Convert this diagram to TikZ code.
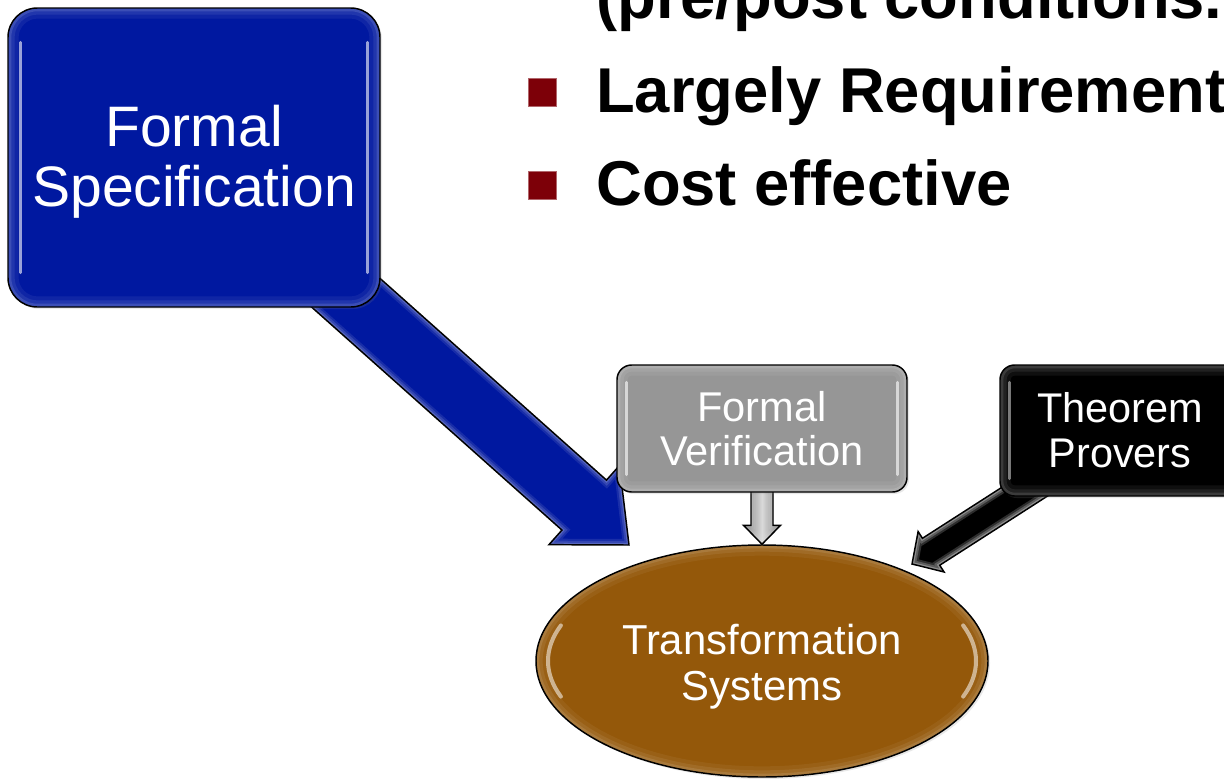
\documentclass[tikz,border=0pt]{standalone}
\usepackage{fontspec}
\setmainfont{Liberation Sans}
\usetikzlibrary{calc,shapes.geometric,backgrounds,shadows}

\definecolor{specblue}{RGB}{0,24,160}
\definecolor{verifgray}{RGB}{150,150,150}
\definecolor{transbrown}{RGB}{148,88,10}
\definecolor{bulletred}{RGB}{125,0,8}

% Corner points of a block arrow: #1 start, #2 tip, #3 shaft half-width,
% #4 head half-width, #5 head length
\newcommand{\arrowpoints}[5]{%
  \coordinate (ba-neck) at ($(#2)!#5!(#1)$);
  \coordinate (ba-1) at ($(#1)!#3!90:(#2)$);
  \coordinate (ba-2) at ($(ba-neck)!#3!90:(#2)$);
  \coordinate (ba-3) at ($(ba-neck)!#4!90:(#2)$);
  \coordinate (ba-4) at (#2);
  \coordinate (ba-5) at ($(ba-neck)!#4!-90:(#2)$);
  \coordinate (ba-6) at ($(ba-neck)!#3!-90:(#2)$);
  \coordinate (ba-7) at ($(#1)!#3!-90:(#2)$);
}
\newcommand{\arrowoutline}{(ba-1) -- (ba-2) -- (ba-3) -- (ba-4) -- (ba-5) -- (ba-6) -- (ba-7) -- cycle}

% Block arrow with an inner glow: #1 fill style, #2 glow opacity factor,
% #3 start, #4 tip, #5 shaft half-width, #6 head half-width, #7 head length
\newcommand{\blockarrow}[7]{%
  \arrowpoints{#3}{#4}{#5}{#6}{#7}
  \fill[#1] \arrowoutline;
  \begin{scope}
    \clip \arrowoutline;
    \foreach \lw/\op in {9pt/0.08,6pt/0.10,3pt/0.14}
      \draw[white,opacity=#2*\op,line width=\lw,line join=miter] \arrowoutline;
  \end{scope}
  \draw[black,line width=1.1pt,line join=miter] \arrowoutline;
}

\begin{document}
\begin{tikzpicture}[x=0.75pt,y=-0.75pt,
  softshadow/.style={drop shadow={opacity=0.18,shadow xshift=1.5pt,shadow yshift=-1.5pt}},
  boxglow/.style={path picture={
    \foreach \lw/\op in {16pt/0.06,10pt/0.08,5pt/0.12}
      \draw[white,opacity=\op,line width=\lw,rounded corners=#1]
        (path picture bounding box.south west) rectangle (path picture bounding box.north east);}},
  specbox/.style={draw=black,line width=1.1pt,fill=specblue,rounded corners=22pt,
    inner sep=0pt,softshadow,boxglow=22pt},
  verifbox/.style={draw=black,line width=1.1pt,fill=verifgray,rounded corners=11pt,
    inner sep=0pt,text=white,align=center,font=\fontsize{31.2pt}{33pt}\selectfont,
    softshadow,boxglow=11pt},
  proverbox/.style={draw=black,line width=1.1pt,fill=black,rounded corners=11pt,
    inner sep=0pt,text=white,align=center,font=\fontsize{31.1pt}{33.75pt}\selectfont,
    softshadow,boxglow=11pt},
  transellipse/.style={ellipse,draw=black,line width=1.1pt,fill=transbrown,
    inner sep=0pt,softshadow,
    path picture={
      \foreach \lw/\op in {16pt/0.05,10pt/0.07,5pt/0.10}
        \draw[white,opacity=\op,line width=\lw] (path picture bounding box.center)
          ellipse[x radius=169.5pt,y radius=87pt];}},
  spectext/.style={inner sep=0pt,text=white,align=center,font=\fontsize{42.8pt}{45pt}\selectfont},
  transtext/.style={inner sep=0pt,text=white,align=center,font=\fontsize{31.4pt}{34.5pt}\selectfont},
  grayarrow/.style={left color=verifgray!80!black,right color=verifgray!80!black,
    middle color=verifgray!35!white},
  bulletsq/.style={fill=bulletred,draw=bulletred!60!white,line width=0.3pt,
    minimum size=21pt,inner sep=0pt},
  bullettext/.style={anchor=base west,inner sep=0pt,
    font=\bfseries\fontsize{47.5pt}{57pt}\selectfont},
  gloss/.style={white,opacity=0.6,line width=2pt,line cap=round}
]
\useasboundingbox (0,0) rectangle (1224,778);
\clip (0,0) rectangle (1224,778);

% bullet list
\node[bullettext] (line1) at (596,18) {(pre/post conditions.};
\node[bullettext] (line2) at (596,112) {Largely Requirement};
\node[bullettext] (line3) at (596,205) {Cost effective};
\node[bulletsq] (bul2) at (542,92) {};
\node[bulletsq] (bul3) at (542,185.5) {};

% boxes
\node[specbox,minimum width=279pt,minimum height=224.25pt] (spec) at (194,157.5) {};
\node[spectext] (spec-text) at ([yshift=-3pt]spec.center) {Formal\\Specification};
\node[verifbox,minimum width=217.5pt,minimum height=95.25pt] (verif) at (762,428.5)
  {Formal\\Verification};
\node[proverbox,minimum width=180pt,minimum height=98.25pt] (prover) at (1120,430.5)
  {Theorem\\Provers};
\node[transellipse,minimum width=339pt,minimum height=174pt] (trans) at (762,661) {};
\node[transtext] (trans-text) at ([yshift=-4.5pt]trans.center) {Transformation\\Systems};

% bright edge highlights
\draw[gloss] ($(spec.north west)+(13,35)$) -- ($(spec.south west)+(13,-35)$);
\draw[gloss] ($(spec.north east)+(-13,35)$) -- ($(spec.south east)+(-13,-35)$);
\draw[gloss] ($(verif.north west)+(10,18)$) -- ($(verif.south west)+(10,-18)$);
\draw[gloss] ($(verif.north east)+(-10,18)$) -- ($(verif.south east)+(-10,-18)$);
\draw[gloss,opacity=0.45] ($(prover.north west)+(10,18)$) -- ($(prover.south west)+(10,-18)$);
\draw[gloss,line width=3pt,opacity=0.55] ([shift={(trans.center)}]160:214 and 104)
  arc[start angle=160,end angle=200,x radius=214,y radius=104];
\draw[gloss,line width=3pt,opacity=0.55] ([shift={(trans.center)}]20:214 and 104)
  arc[start angle=20,end angle=-20,x radius=214,y radius=104];

% arrow tips
\coordinate (bluetip) at (629,545);
\coordinate (blacktip) at (912,564);

% block arrows behind the shapes
\begin{scope}[on background layer]
  \blockarrow{fill=specblue}{1.2}{spec.center}{bluetip}{25.1pt}{39.75pt}{45pt}
  \blockarrow{grayarrow}{0.6}{verif.center}{trans.north}{8.25pt}{13.9pt}{14.25pt}
  \blockarrow{fill=black}{2.2}{prover.center}{blacktip}{12pt}{18pt}{17pt}
\end{scope}
\end{tikzpicture}
\end{document}
